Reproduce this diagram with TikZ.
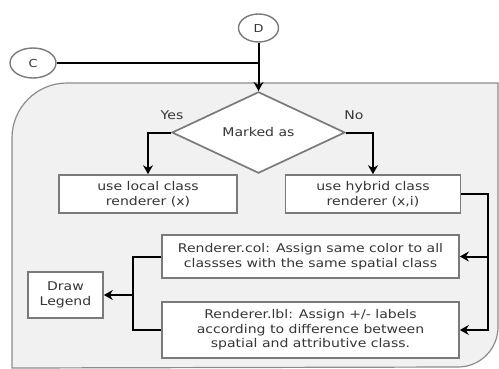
\documentclass[tikz,border=0pt]{standalone}
\usepackage{fontspec}
\setmainfont{DejaVu Sans}[FakeStretch=1.17]
\usetikzlibrary{arrows.meta,shapes.geometric,calc}
\definecolor{regionfill}{HTML}{F1F1F1}
\definecolor{regionline}{HTML}{8C8C8C}
\definecolor{boxgray}{HTML}{7A7A7A}
\definecolor{txt}{HTML}{363636}
\begin{document}
\begin{tikzpicture}[x=1pt,y=-1pt,
  font=\fontsize{12}{14.5}\selectfont,
  box/.style={draw=boxgray, line width=1.7pt, fill=white, text=txt, align=center, inner sep=0pt},
  conn/.style={ellipse, draw=boxgray, line width=1.4pt, fill=white, text=txt, inner sep=0pt, font=\fontsize{11}{13}\selectfont},
  lab/.style={text=txt, inner sep=0pt},
  ln/.style={line width=2pt, black},
  arr/.style={line width=2pt, black, -{Stealth[length=9pt,width=10pt,inset=3pt]}}]
\useasboundingbox (0,0) rectangle (499,368);
% region
\draw[draw=regionline, line width=1.2pt, fill=regionfill]
  (12,368) -- (12,138) arc[start angle=180,end angle=270,radius=55]
  -- (498,83) -- (498,327) arc[start angle=0,end angle=90,radius=40] -- cycle;
% connectors (circles)
\node[conn, minimum width=40pt, minimum height=28pt] (D) at (258.5,28) {D};
\node[conn, minimum width=46pt, minimum height=30pt] (C) at (33,63) {C};
\coordinate (J) at (258.5,63);
% decision
\node[diamond, draw=boxgray, line width=1.7pt, fill=white, text=txt,
  minimum width=173pt, minimum height=61pt, inner sep=0pt] (M) at (258.5,132.5) {Marked as};
\node[lab] (yes) at (172,115) {Yes};
\node[lab] (no) at (354,115) {No};
% boxes
\node[box, minimum width=178pt, minimum height=38pt] (local) at (148,194) {use local class\\renderer (x)};
\node[box, minimum width=175pt, minimum height=38pt] (hybrid) at (373,194) {use hybrid class\\renderer (x,i)};
\node[box, minimum width=297pt, minimum height=43pt] (col) at (310.5,256.5) {Renderer.col: Assign same color to all\\classses with the same spatial class};
\node[box, minimum width=297pt, minimum height=56pt] (lbl) at (310.5,330) {Renderer.lbl: Assign +/- labels\\according to difference between\\spatial and attributive class.};
\node[box, minimum width=75pt, minimum height=46pt] (legend) at (65.5,295) {Draw\\Legend};
% helper coordinates
\coordinate (R) at (488,0);
\coordinate (L) at (133,0);
% edges
\draw[ln] (C.east) -- (J);
\draw[arr] (D.south) -- (M.north);
\draw[arr] (M.west) -| (local.north);
\draw[arr] (M.east) -| (hybrid.north);
\draw[arr] (hybrid.east) -| (R |- lbl.east) -- (lbl.east);
\draw[arr] (col.east -| R) -- (col.east);
\draw[ln] (col.west) -| (L |- lbl.west) -- (lbl.west);
\draw[arr] (L |- legend.east) -- (legend.east);
\end{tikzpicture}
\end{document}
